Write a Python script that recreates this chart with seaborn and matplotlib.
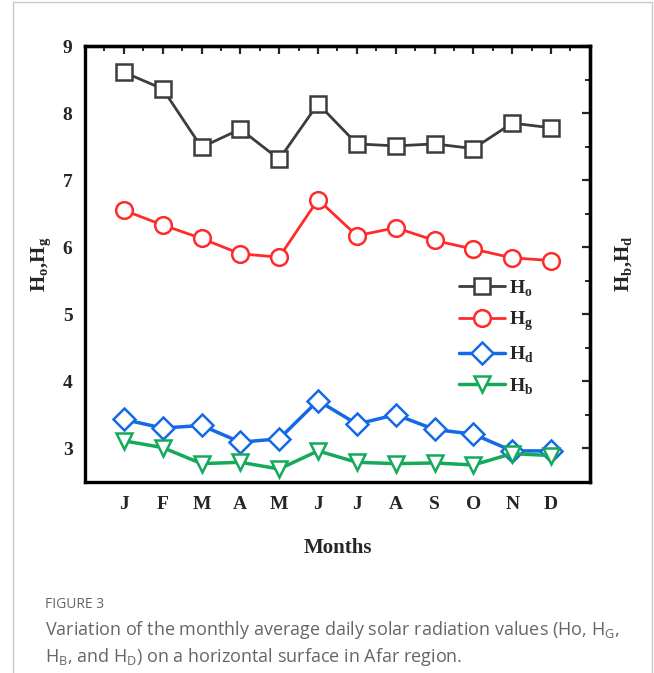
import numpy as np
import pandas as pd
import matplotlib
matplotlib.use("Agg")
import matplotlib.pyplot as plt
import seaborn as sns
from matplotlib.ticker import MultipleLocator, FixedLocator
from matplotlib.lines import Line2D

# ---------------- data ----------------
months = ["J", "F", "M", "A", "M", "J", "J", "A", "S", "O", "N", "D"]
month_idx = list(range(1, 13))
Ho = [8.61, 8.36, 7.49, 7.76, 7.31, 8.14, 7.54, 7.51, 7.54, 7.47, 7.85, 7.78]
Hg = [6.55, 6.33, 6.13, 5.90, 5.85, 6.71, 6.17, 6.29, 6.10, 5.97, 5.84, 5.80]
Hd = [3.43, 3.30, 3.34, 3.09, 3.14, 3.71, 3.36, 3.50, 3.28, 3.21, 2.96, 2.96]
Hb = [3.11, 3.01, 2.77, 2.79, 2.69, 2.96, 2.79, 2.77, 2.78, 2.75, 2.92, 2.89]

series_names = [r"$\mathbf{H}_\mathbf{o}$", r"$\mathbf{H}_\mathbf{g}$",
                r"$\mathbf{H}_\mathbf{d}$", r"$\mathbf{H}_\mathbf{b}$"]
series_vals = [Ho, Hg, Hd, Hb]
series_colors = ["#3c3c3c", "#ff2a2a", "#1469e6", "#14aa5a"]
series_markers = ["s", "o", "D", "v"]
series_msize = [12, 12, 11, 12]
series_lw = [2.0, 2.0, 2.5, 2.5]

sns.set_style("white")
plt.rcParams["font.family"] = ["Liberation Serif", "DejaVu Serif"]
plt.rcParams["mathtext.fontset"] = "custom"
plt.rcParams["mathtext.rm"] = "Open Sans"
plt.rcParams["mathtext.bf"] = "Liberation Serif:bold"
plt.rcParams["mathtext.it"] = "Open Sans:italic"

fig = plt.figure(figsize=(6.54, 6.73), dpi=100)
ax = fig.add_axes([0.130, 0.2842, 0.772, 0.6474])

for name, vals, col, mk, ms, lw in zip(series_names, series_vals, series_colors,
                                       series_markers, series_msize, series_lw):
    df = pd.DataFrame({"Month": month_idx, "Value": vals})
    sns.lineplot(data=df, x="Month", y="Value", ax=ax, color=col, lw=lw,
                 marker=mk, markersize=ms, markerfacecolor="white",
                 markeredgecolor=col, markeredgewidth=1.8, label=name)

ax.set_xlim(0, 13)
ax.set_ylim(2.5, 9)
ax.xaxis.set_major_locator(FixedLocator(month_idx))
ax.set_xticklabels(months)
ax.xaxis.set_minor_locator(MultipleLocator(0.5))
ax.yaxis.set_major_locator(MultipleLocator(1))
ax.yaxis.set_minor_locator(MultipleLocator(0.5))

for s in ax.spines.values():
    s.set_linewidth(2.4)
    s.set_color("black")

ax.tick_params(axis="both", which="major", direction="out", length=5,
               width=1.6, color="black", labelsize=14, pad=4)
ax.tick_params(axis="both", which="minor", direction="out", length=3,
               width=1.4, color="black")
ax.tick_params(axis="x", which="major", pad=5)
for lab in ax.get_xticklabels() + ax.get_yticklabels():
    lab.set_fontweight("bold")
    lab.set_fontfamily("Liberation Serif")

ax.set_xlabel("Months", fontsize=15, fontweight="bold", labelpad=18)
ax.set_ylabel(r"$\mathbf{H}_\mathbf{o}$,$\mathbf{H}_\mathbf{g}$", fontsize=15,
              fontweight="bold", labelpad=6)

secx = ax.secondary_xaxis("top")
secx.xaxis.set_major_locator(FixedLocator(month_idx))
secx.xaxis.set_minor_locator(MultipleLocator(0.5))
secx.tick_params(which="major", direction="in", length=6, width=1.6, labeltop=False)
secx.tick_params(which="minor", direction="in", length=3.5, width=1.4)
secx.spines["top"].set_linewidth(2.4)

secy = ax.secondary_yaxis("right")
secy.yaxis.set_major_locator(MultipleLocator(1))
secy.yaxis.set_minor_locator(MultipleLocator(0.5))
secy.tick_params(which="major", direction="in", length=6, width=1.6, labelright=False)
secy.tick_params(which="minor", direction="in", length=3.5, width=1.4)
secy.spines["right"].set_linewidth(2.4)
secy.set_ylabel(r"$\mathbf{H}_\mathbf{b}$,$\mathbf{H}_\mathbf{d}$", fontsize=15,
                fontweight="bold", rotation=90, labelpad=14)

leg = ax.legend(loc="upper left", bbox_to_anchor=(0.74, 0.468), frameon=False,
                fontsize=14, handlelength=2.4, handletextpad=0.2,
                labelspacing=0.6, borderpad=0, borderaxespad=0)

# ---------------- caption & frame ----------------
fig.add_artist(Line2D([13 / 654, 13 / 654], [0, 1 - 2 / 673], color="#c8c8c8", lw=1.0))
fig.add_artist(Line2D([13 / 654, 652 / 654], [1 - 2 / 673, 1 - 2 / 673], color="#c8c8c8", lw=1.0))
fig.add_artist(Line2D([652 / 654, 652 / 654], [0, 1 - 2 / 673], color="#c8c8c8", lw=1.0))

cap_color = "#666666"
fig.text(45 / 654, 1 - 605 / 673, "FIGURE 3", fontsize=10, color=cap_color,
         family="Open Sans", va="center", ha="left")
fig.text(45 / 654, 1 - 630 / 673,
         r"Variation of the monthly average daily solar radiation values (Ho, H$_\mathrm{G}$,",
         fontsize=13, color=cap_color, family="Open Sans", va="center", ha="left")
fig.text(45 / 654, 1 - 657 / 673,
         r"H$_\mathrm{B}$, and H$_\mathrm{D}$) on a horizontal surface in Afar region.",
         fontsize=13, color=cap_color, family="Open Sans", va="center", ha="left")

fig.savefig("out.png", dpi=100, facecolor="white")
